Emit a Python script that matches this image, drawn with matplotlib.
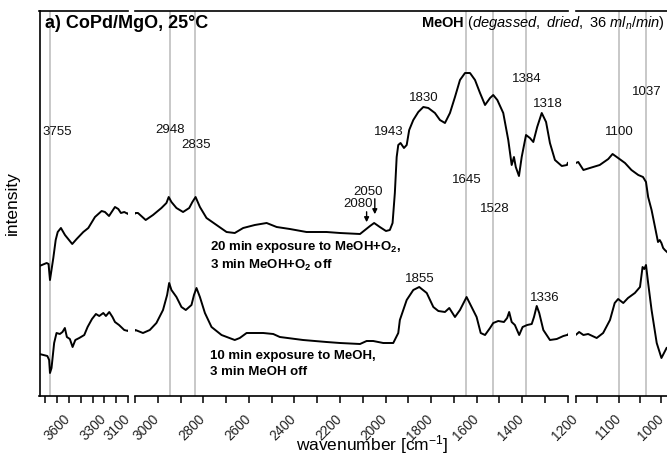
import numpy as np
import matplotlib
matplotlib.use("Agg")
import matplotlib.pyplot as plt

plt.rcParams['font.family'] = ['Liberation Sans', 'DejaVu Sans']
plt.rcParams['mathtext.fontset'] = 'custom'
plt.rcParams['mathtext.rm'] = 'Liberation Sans'
plt.rcParams['mathtext.it'] = 'Liberation Sans:italic'
plt.rcParams['mathtext.bf'] = 'Liberation Sans:bold'

# spectrum after MeOH+O2 (upper trace), wavenumber [cm-1] / intensity [a.u.]
wn_o2 = [3846, 3786, 3770, 3758, 3730, 3710, 3693, 3666, 3632, 3571, 3534, 3478, 3436, 3380,
         3324, 3296, 3262, 3212, 3184, 3162, 3134, 3102,
         3098, 3087, 3053, 3021, 2984, 2962, 2952, 2940, 2918, 2889, 2862, 2848, 2834, 2815,
         2786, 2742, 2698, 2662, 2625, 2574, 2522, 2478, 2420, 2347, 2259, 2200, 2112, 2090,
         2068, 2050, 2025, 1998, 1981, 1969, 1959, 1951, 1944, 1934, 1919, 1907, 1896, 1878,
         1856, 1834, 1812, 1783, 1761, 1739, 1717, 1695, 1673, 1651, 1629, 1607, 1585, 1563,
         1541, 1527, 1509, 1483, 1461, 1446, 1436, 1428, 1414, 1402, 1383, 1366, 1351, 1334,
         1314, 1295, 1278, 1256, 1226, 1203,
         1200, 1194, 1182, 1167, 1144, 1124, 1114, 1101, 1085, 1070, 1054, 1043, 1036, 1031,
         1023, 1015, 1008, 1004, 1000, 996, 992, 987]
int_o2 = [134, 137, 136, 120, 142, 160, 168, 172, 165, 156, 161, 168, 172, 183,
          189, 188, 184, 193, 191, 187, 188, 186,
          187, 187, 180, 185, 192, 197, 203, 198, 192, 188, 192, 198, 203, 193,
          182, 175, 168, 167, 172, 175, 177, 173, 171, 168, 168, 167, 166, 170,
          174, 177, 173, 169, 170, 177, 207, 243, 255, 257, 252, 255, 270, 280,
          288, 293, 292, 287, 280, 277, 287, 303, 320, 327, 327, 320, 307, 295,
          302, 305, 300, 287, 260, 235, 243, 233, 224, 243, 265, 262, 258, 273,
          287, 278, 257, 240, 234, 235,
          237, 238, 230, 232, 235, 241, 246, 242, 237, 230, 225, 223, 218, 203,
          190, 173, 158, 160, 157, 152, 150, 148]

# spectrum after MeOH only (lower trace)
wn_meoh = [3846, 3780, 3765, 3758, 3745, 3723, 3703, 3675, 3653, 3633, 3616, 3591, 3568, 3545,
           3512, 3470, 3442, 3405, 3372, 3344, 3310, 3288, 3260, 3233, 3212, 3178, 3134, 3102,
           3098, 3065, 3035, 3006, 2977, 2959, 2950, 2940, 2918, 2896, 2877, 2852, 2841, 2830,
           2815, 2793, 2764, 2720, 2662, 2640, 2610, 2566, 2537, 2493, 2464, 2362, 2259, 2200,
           2112, 2083, 2054, 2010, 1966, 1944, 1937, 1907, 1878, 1852, 1819, 1790, 1768, 1739,
           1720, 1695, 1673, 1644, 1622, 1600, 1582, 1563, 1541, 1527, 1505, 1480, 1466, 1457,
           1446, 1432, 1413, 1398, 1378, 1358, 1348, 1336, 1325, 1307, 1278, 1248, 1219, 1203,
           1200, 1192, 1182, 1171, 1151, 1136, 1120, 1109, 1101, 1089, 1078, 1062, 1050, 1044,
           1040, 1036, 1031, 1023, 1011, 1000, 988]
int_meoh = [46, 44, 40, 27, 32, 57, 67, 66, 68, 72, 63, 61, 53, 60,
            62, 65, 73, 81, 86, 84, 87, 84, 88, 83, 78, 75, 70, 69,
            70, 67, 70, 77, 90, 105, 117, 110, 103, 93, 90, 95, 105, 112,
            103, 87, 73, 65, 60, 62, 67, 67, 67, 66, 63, 60, 58, 57,
            56, 59, 59, 57, 57, 67, 80, 100, 110, 113, 107, 93, 89, 88,
            92, 83, 90, 103, 93, 83, 67, 65, 72, 77, 79, 78, 82, 88,
            78, 75, 65, 73, 75, 76, 83, 94, 87, 70, 60, 61, 64, 65,
            65, 68, 65, 66, 62, 67, 80, 97, 101, 97, 102, 107, 113, 133,
            131, 135, 117, 90, 57, 42, 52]

# marked bands (grey lines) and peak labels
bands = [3755, 2948, 2835, 1645, 1528, 1384, 1100, 1037]
peak_labels = [("3755", 3695, 268), ("2948", 2947, 270), ("2835", 2831, 255),
               ("1943", 1985, 268), ("1830", 1831, 302), ("1645", 1642, 220),
               ("1528", 1519, 191), ("1384", 1381, 321), ("1318", 1289, 296),
               ("1100", 1098, 268), ("1037", 1035, 308), ("2050", 2077, 208),
               ("2080", 2119, 196), ("1855", 1849, 121), ("1336", 1302, 102)]

W, H = 667, 459
fig = plt.figure(figsize=(W / 100, H / 100), dpi=100)

bot, top = 396, 11
segs = [
    dict(px=(39.5, 128.3), xlim=(3846, 3100), ticks=list(range(3800, 3099, -100)),
         labels=[3600, 3300, 3100], minor=[]),
    dict(px=(135, 567.7), xlim=(3100, 1200), ticks=list(range(3000, 1199, -200)),
         labels=list(range(3000, 1399, -200)), minor=list(range(3100, 1199, -200))),
    dict(px=(575.7, 667), xlim=(1200, 987), ticks=[1200, 1150, 1100, 1050, 1000],
         labels=[1200, 1100, 1000], minor=[]),
]

axes = []
for i, s in enumerate(segs):
    x0, x1 = s["px"]
    ax = fig.add_axes([x0 / W, (H - bot) / H, (x1 - x0) / W, (bot - top) / H])
    ax.set_xlim(*s["xlim"])
    ax.set_ylim(4, 389)
    lo, hi = min(s["xlim"]), max(s["xlim"])
    for b in bands:
        if lo < b < hi:
            ax.axvline(b, color="#c4c4c4", lw=1.3, zorder=1)
    ax.plot(wn_o2, int_o2, color="black", lw=1.4, zorder=3)
    ax.plot(wn_meoh, int_meoh, color="black", lw=1.4, zorder=3)
    ax.set_xticks(s["ticks"])
    ax.set_xticklabels([])
    if s["minor"]:
        ax.set_xticks(s["minor"], minor=True)
    ax.tick_params(axis="x", which="both", direction="out", length=5, width=1.1)
    # rotated tick labels, top-right corner just at the tick
    for t in s["labels"]:
        ax.annotate(str(t), xy=(t, 0), xycoords=("data", "axes fraction"),
                    xytext=(-3.8, -11.5), textcoords="offset points",
                    rotation=45, ha="right", va="top", rotation_mode="anchor",
                    fontsize=9.8, color="#222222", annotation_clip=False)
    ax.set_yticks([])
    ax.spines["right"].set_visible(False)
    if i > 0:
        ax.spines["left"].set_visible(False)
    for sp in ax.spines.values():
        sp.set_linewidth(1.2)
    for lab, x, y in peak_labels:
        if lo <= x <= hi:
            ax.text(x, y, lab, ha="center", va="center", fontsize=9.5, color="#111111")
    axes.append(ax)

ax1, ax2, ax3 = axes
ax1.set_ylabel("intensity", fontsize=12.5, labelpad=14)

# arrows for the 2080 / 2050 bands
ax2.annotate("", xy=(2083, 175), xytext=(2083, 191),
             arrowprops=dict(arrowstyle="-|>", color="black", lw=1, mutation_scale=7))
ax2.annotate("", xy=(2047, 183), xytext=(2047, 204),
             arrowprops=dict(arrowstyle="-|>", color="black", lw=1, mutation_scale=7))

# trace descriptions
ax2.text(2772, 153, r"20 min exposure to MeOH+O$_\mathbf{2}$,", fontsize=9.5,
         fontweight="bold", va="center", ha="left")
ax2.text(2772, 135, r"3 min MeOH+O$_\mathbf{2}$ off", fontsize=9.5,
         fontweight="bold", va="center", ha="left")
ax2.text(2772, 44, "10 min exposure to MeOH,", fontsize=9.5,
         fontweight="bold", va="center", ha="left")
ax2.text(2772, 28, "3 min MeOH off", fontsize=9.5,
         fontweight="bold", va="center", ha="left")

fig.text(45 / W, 1 - 24 / H, "a) CoPd/MgO, 25°C", fontsize=13, fontweight="bold",
         ha="left", va="center")
fig.text(665 / W, 1 - 23 / H,
         r"$\mathbf{MeOH}$ ($\mathit{degassed,\ dried,\ 36\ ml_n/min}$)",
         fontsize=10.5, ha="right", va="center")
fig.text(372 / W, 1 - 445 / H, r"wavenumber [cm$^{-1}$]", fontsize=12.5,
         ha="center", va="center")

fig.savefig("out.png", dpi=100)
